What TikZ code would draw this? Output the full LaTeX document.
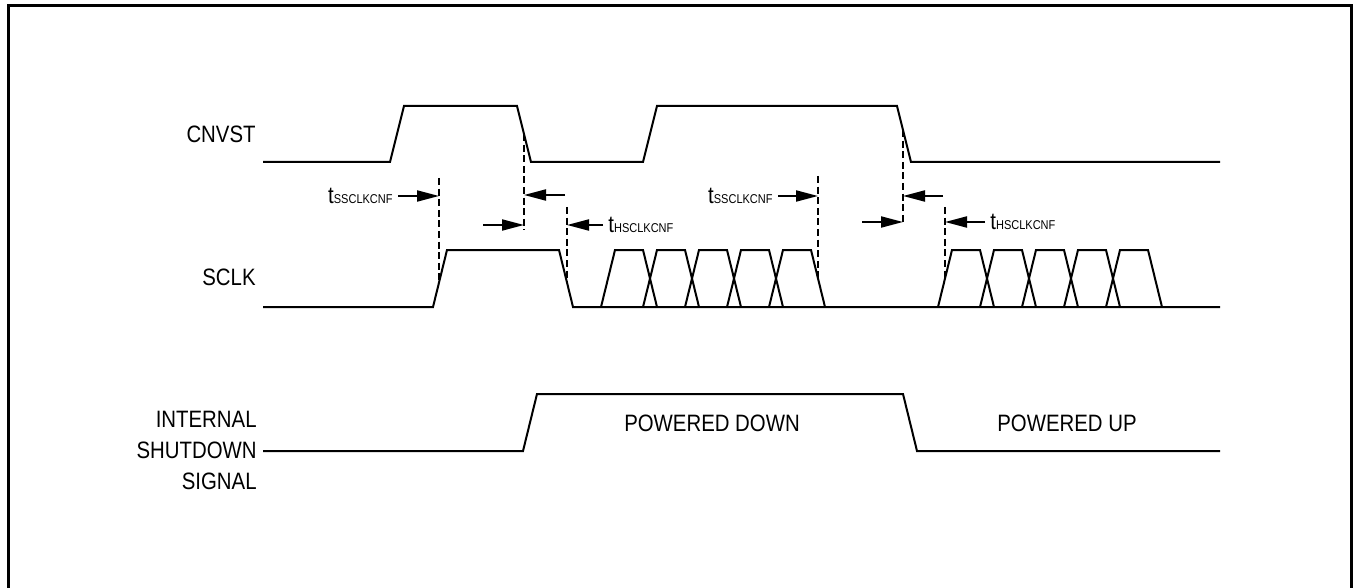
\documentclass[tikz,border=0pt]{standalone}
\usepackage{fontspec}
\setmainfont[FakeStretch=0.86]{Liberation Sans}
\usepackage{tikz}
\usetikzlibrary{arrows.meta, positioning, calc}
\newcommand{\lblfont}{\fontsize{11.85}{15.5}\selectfont}
\newcommand{\tlbl}[1]{t\raisebox{-0.4pt}{\fontsize{6.4}{7}\selectfont #1}}

\begin{document}
\begin{tikzpicture}[x=0.5pt, y=-0.5pt,
    wave/.style={line width=1pt, line join=miter},
    guide/.style={line width=0.75pt, dash pattern=on 3.5pt off 1.8pt},
    tarrow/.style={line width=1pt, -{Triangle[length=11pt, width=5.5pt]}},
    siglbl/.style={font=\lblfont, inner sep=0pt, align=right},
    tlabel/.style={font=\lblfont, inner sep=0pt}]
\useasboundingbox (0,0) rectangle (1353,588);
\draw[line width=1.5pt] (8,588) -- (8,6) -- (1351,6) -- (1351,588);

% Signal names
\node[siglbl, anchor=east] (cnvst) at (256,134) {CNVST};
\node[siglbl, anchor=east] (sclk) at (256,277) {SCLK};
\node[siglbl, anchor=east] (shdn) at (257,450) {INTERNAL\\SHUTDOWN\\SIGNAL};

% CNVST
\draw[wave] (263,162) -- (390,162) -- (404,106) -- (517,106) -- (531,162) -- (643,162) -- (657,106) -- (897,106) -- (911,162) -- (1220,162);

% SCLK
\draw[wave] (263,307) -- (433,307) -- (447,250) -- (559,250) -- (573,307) -- (1220,307);
\foreach \s in {601,938}
  \foreach \i in {0,...,4}
    \draw[wave] ({\s+42*\i},307) -- ({\s+42*\i+14},250) -- ({\s+42*\i+42},250) -- ({\s+42*\i+56},307);

% Internal shutdown
\coordinate (s0) at (263,451);
\draw[wave] (s0) -- (523,451) -- (537,394) -- (903,394) -- (917,451) -- (1220,451);
\node[tlabel] (pdown) at (712,423) {POWERED DOWN};
\node[tlabel] (pup) at (1067,423) {POWERED UP};

% Guide lines
\draw[guide] (439,178) coordinate (g1) -- (439,283);
\draw[guide] (524,134) -- (524,230) coordinate (g2);
\draw[guide] (567,207) coordinate (g3) -- (567,283);
\draw[guide] (818,176) coordinate (g4) -- (818,279);
\draw[guide] (903,130) -- (903,222) coordinate (g5);
\draw[guide] (945,207) coordinate (g6) -- (945,279);

% Timing arrows
\coordinate (a1) at (398,196);
\coordinate (a2) at (565,195);
\coordinate (a3) at (483,225);
\coordinate (a4) at (603,225);
\coordinate (a5) at (778,196);
\coordinate (a6) at (943,196);
\coordinate (a7) at (862,222);
\coordinate (a8) at (985,222);
\draw[tarrow] (a1) -- (a1 -| g1);
\draw[tarrow] (a2) -- (a2 -| g2);
\draw[tarrow] (a3) -- (a3 -| g2);
\draw[tarrow] (a4) -- (a4 -| g3);
\draw[tarrow] (a5) -- (a5 -| g4);
\draw[tarrow] (a6) -- (a6 -| g5);
\draw[tarrow] (a7) -- (a7 -| g5);
\draw[tarrow] (a8) -- (a8 -| g6);

\node[tlabel, left=5 of a1] (tss1) {\tlbl{SSCLKCNF}};
\node[tlabel, right=5 of a4] (ths1) {\tlbl{HSCLKCNF}};
\node[tlabel, left=5 of a5] (tss2) {\tlbl{SSCLKCNF}};
\node[tlabel, right=5 of a8] (ths2) {\tlbl{HSCLKCNF}};
\end{tikzpicture}
\end{document}
